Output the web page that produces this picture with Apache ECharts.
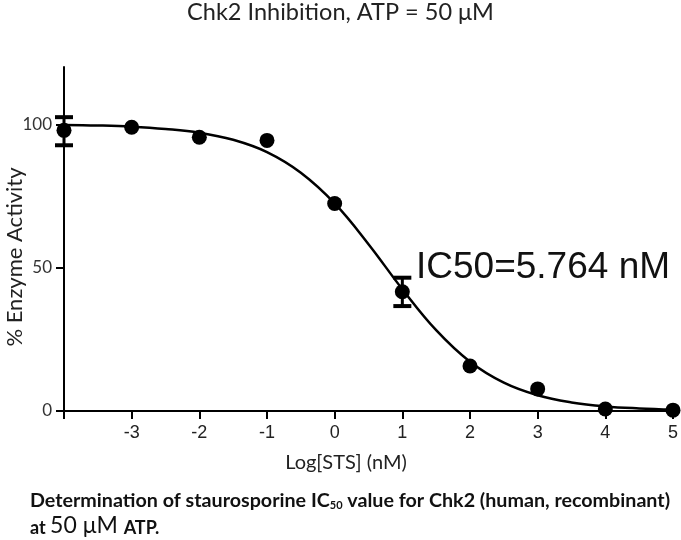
<!DOCTYPE html>
<html>
<head>
<meta charset="utf-8">
<script src="https://cdn.jsdelivr.net/npm/echarts@6/dist/echarts.min.js"></script>
<style>
  html, body { margin: 0; padding: 0; background: #fff; }
  #chart { width: 681px; height: 540px; }
</style>
</head>
<body>
<div id="chart"></div>
<script>
// measured points: log concentration vs % activity
const logConc = [-4, -3, -2, -1, 0, 1, 2, 3, 4, 5]
const activity = [97.9, 99, 95.5, 94.4, 72.4, 41.6, 15.7, 7.7, 0.7, 0.3]
// error bars (low, high) where visible
const errX = [-4, 1]
const errLow = [92.7, 36.6]
const errHigh = [102.5, 46.5]
// fitted curve
const curveX = [-4, -3.5, -3, -2.5, -2, -1.5, -1, -0.5, 0, 0.5, 1, 1.5, 2, 2.5, 3, 3.5, 4, 4.5, 5]
const curveY = [99.8, 99.6, 99.2, 98.4, 97.1, 94.6, 90.3, 83.1, 72.4, 58.2, 42.5, 28.2, 17.2, 9.9, 5.5, 3.0, 1.6, 0.9, 0.5]
const yTicks = [0, 50, 100]

const chart = echarts.init(document.getElementById('chart'))

const tickStyle = { color: '#000', width: 2 }

chart.setOption({
  animation: false,
  title: {
    text: 'Chk2 Inhibition, ATP = 50 μM',
    left: 'center',
    top: 0,
    padding: 0,
    textStyle: { fontFamily: 'Lato', fontWeight: 'normal', fontSize: 23.5, color: '#222' }
  },
  grid: { left: 64, right: 8, top: 67, bottom: 129, outerBoundsMode: 'none', containLabel: false },
  xAxis: {
    type: 'value',
    min: -4,
    max: 5,
    interval: 1,
    splitLine: { show: false },
    axisLine: { onZero: false, lineStyle: { color: '#000', width: 2 } },
    axisTick: { length: 8, lineStyle: tickStyle },
    axisLabel: {
      margin: 13,
      color: '#222',
      fontSize: 18,
      fontFamily: 'Liberation Sans',
      formatter: v => (v === -4 ? '' : String(v))
    }
  },
  yAxis: {
    type: 'value',
    min: 0,
    max: 120,
    interval: 50,
    splitLine: { show: false },
    axisLine: { onZero: false, lineStyle: { color: '#000', width: 2 } },
    axisTick: { length: 8, customValues: yTicks, lineStyle: tickStyle },
    axisLabel: { margin: 12, customValues: yTicks, color: '#333', fontSize: 17, fontFamily: 'Lato' }
  },
  graphic: [
    {
      type: 'text', x: 15, y: 257, rotation: Math.PI / 2,
      style: { text: '% Enzyme Activity', fontFamily: 'Lato', fontSize: 22, fill: '#222', align: 'center', verticalAlign: 'middle' }
    },
    {
      type: 'text', x: 346, y: 463,
      style: { text: 'Log[STS] (nM)', fontFamily: 'Lato', fontSize: 20, fill: '#222', align: 'center', verticalAlign: 'middle' }
    },
    {
      type: 'text', x: 416, y: 268,
      style: { text: 'IC50=5.764 nM', fontFamily: 'Liberation Sans', fontSize: 37, fill: '#111', align: 'left', verticalAlign: 'middle' }
    },
    {
      type: 'text', x: 30, y: 499,
      style: {
        text: '{b|Determination of staurosporine IC}{s|50}{b| value for Chk2 (human, recombinant)}',
        verticalAlign: 'middle',
        rich: {
          b: { fontFamily: 'Lato', fontWeight: 'bold', fontSize: 19.7, fill: '#111', verticalAlign: 'bottom' },
          s: { fontFamily: 'Lato', fontWeight: 'bold', fontSize: 11, fill: '#111', padding: [12, 0, 0, 0], verticalAlign: 'bottom' }
        }
      }
    },
    {
      type: 'text', x: 30, y: 526,
      style: {
        text: '{b|at }{r|50 μM }{b|ATP.}',
        verticalAlign: 'middle',
        rich: {
          b: { fontFamily: 'Lato', fontWeight: 'bold', fontSize: 18, fill: '#111', verticalAlign: 'bottom' },
          r: { fontFamily: 'Lato', fontSize: 23, fill: '#111', verticalAlign: 'bottom' }
        }
      }
    }
  ],
  series: [
    {
      type: 'line',
      data: curveX.map((x, i) => [x, curveY[i]]),
      smooth: 0.4,
      showSymbol: false,
      lineStyle: { color: '#000', width: 2.5 },
      z: 2
    },
    {
      type: 'custom',
      data: errX.map((x, i) => [x, errLow[i], errHigh[i]]),
      renderItem: (params, api) => {
        const lo = api.coord([api.value(0), api.value(1)])
        const hi = api.coord([api.value(0), api.value(2)])
        const w = 9
        const st = { stroke: '#000', lineWidth: 4 }
        return {
          type: 'group',
          children: [
            { type: 'line', shape: { x1: lo[0], y1: lo[1], x2: hi[0], y2: hi[1] }, style: { stroke: '#000', lineWidth: 3 } },
            { type: 'line', shape: { x1: lo[0] - w, y1: lo[1], x2: lo[0] + w, y2: lo[1] }, style: st },
            { type: 'line', shape: { x1: hi[0] - w, y1: hi[1], x2: hi[0] + w, y2: hi[1] }, style: st }
          ]
        }
      },
      z: 3
    },
    {
      type: 'scatter',
      data: logConc.map((x, i) => [x, activity[i]]),
      symbol: 'circle',
      symbolSize: 15,
      itemStyle: { color: '#000', opacity: 1 },
      z: 4
    }
  ]
})
</script>
</body>
</html>
